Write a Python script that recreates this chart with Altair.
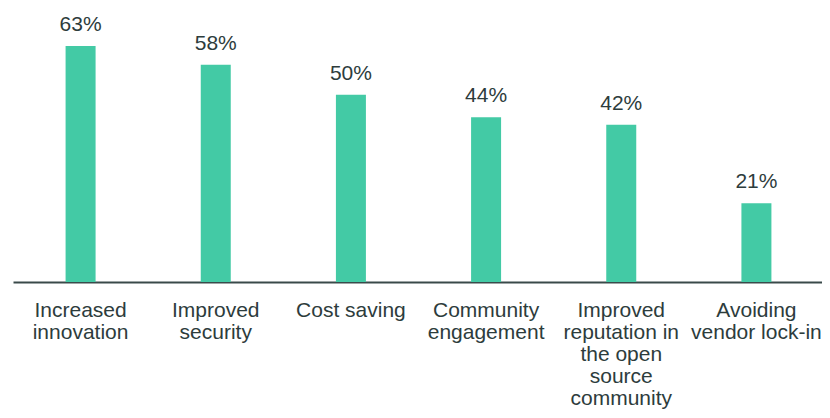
import altair as alt
import pandas as pd

categories = [
    "Increased\ninnovation",
    "Improved\nsecurity",
    "Cost saving",
    "Community\nengagement",
    "Improved\nreputation in\nthe open\nsource\ncommunity",
    "Avoiding\nvendor lock-in",
]
values = [63, 58, 50, 44, 42, 21]
value_labels = ["63%", "58%", "50%", "44%", "42%", "21%"]

df = pd.DataFrame({"category": categories, "value": values, "label": value_labels})

BAR = "#43CAA5"
TEXT = "#2d3c3c"
FONT = "Liberation Sans"

xscale = alt.Scale(paddingInner=0, paddingOuter=0, range=[0, 811])

x = alt.X(
    "category:N",
    sort=categories,
    scale=xscale,
    axis=alt.Axis(
        title=None,
        labelAngle=0,
        labelAlign="center",
        labelBaseline="top",
        labelExpr="split(datum.label, '\\n')",
        labelFont=FONT,
        labelFontSize=21,
        labelColor=TEXT,
        labelLineHeight=22,
        labelPadding=17,
        labelLimit=0,
        labelOverlap=False,
        labelFlush=False,
        ticks=False,
        tickSize=0,
        grid=False,
        domain=True,
        domainColor="#3a4a4a",
        domainWidth=2,
    ),
)
y = alt.Y("value:Q", scale=alt.Scale(domain=[0, 63], nice=False, zero=True), axis=None)

bars = alt.Chart(df).mark_bar(size=30, color=BAR).encode(x=x, y=y)
text = alt.Chart(df).mark_text(
    font=FONT, fontSize=21, color=TEXT, baseline="alphabetic", dy=-15
).encode(x=alt.X("category:N", sort=categories), y=y, text="label:N")

chart = (
    alt.layer(bars, text)
    .properties(
        width=809,
        height=236,
        autosize=alt.AutoSizeParams(type="none"),
        padding={"left": 5, "top": 38, "right": 0, "bottom": 128},
    )
    .configure_view(stroke=None)
)

chart.save("out.html", embed_options={"renderer": "svg", "actions": False})
